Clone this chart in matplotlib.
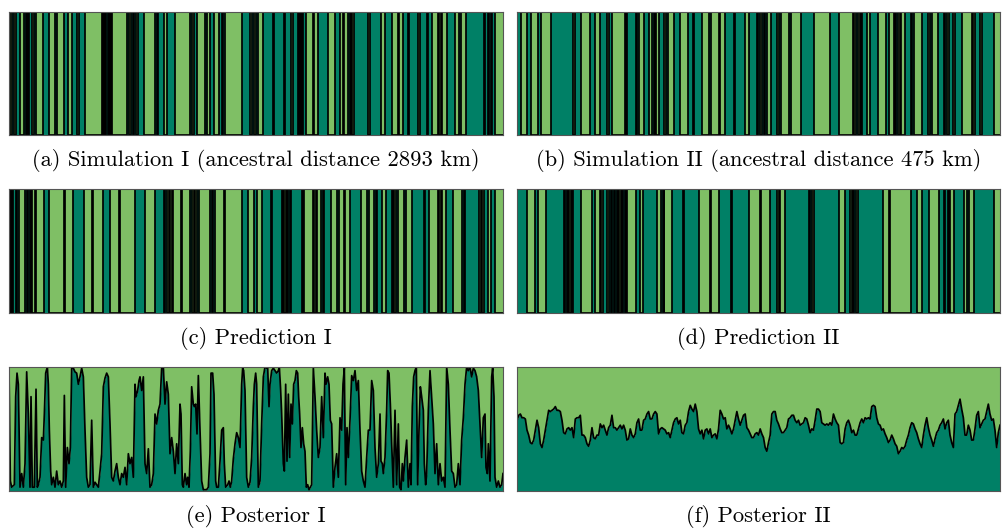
import numpy as np
import matplotlib
matplotlib.use("Agg")
from matplotlib import pyplot as plt

#%% Data
# Ancestry tracts along the chromosome: positions where the ancestry switches,
# the first tract is ancestry 1 (dark) and tracts alternate after each switch.
GENOME_LEN_I = 1482
GENOME_LEN_II = 1450

sim1_switches = [4, 10, 14, 21, 34, 46, 50, 54, 58, 61, 68, 76, 81, 103, 119, 138, 143, 166, 178, 188,
                 204, 209, 228, 278, 282, 285, 289, 292, 296, 299, 304, 307, 310, 353, 360, 366, 372, 376,
                 380, 388, 406, 438, 443, 448, 466, 473, 498, 543, 550, 556, 563, 588, 593, 603, 616, 631,
                 638, 642, 648, 698, 723, 730, 736, 740, 746, 762, 791, 794, 824, 827, 847, 851, 866, 869,
                 872, 876, 879, 882, 891, 911, 915, 926, 958, 978, 993, 1001, 1006, 1018, 1022, 1026, 1030,
                 1034, 1078, 1083, 1116, 1129, 1148, 1166, 1170, 1183, 1197, 1200, 1228, 1232, 1253, 1257,
                 1268, 1287, 1291, 1295, 1299, 1313, 1338, 1351, 1356, 1370, 1426, 1429, 1438, 1441, 1446,
                 1450, 1458]

sim2_switches = [12, 30, 42, 64, 73, 102, 169, 173, 191, 220, 235, 248, 271, 275, 285, 323, 327, 331, 356,
                 359, 365, 380, 395, 405, 410, 413, 417, 425, 440, 447, 453, 470, 490, 512, 529, 532, 555,
                 576, 583, 605, 609, 625, 650, 653, 685, 695, 720, 723, 730, 734, 740, 745, 750, 763, 782,
                 787, 792, 818, 823, 852, 891, 940, 966, 1008, 1012, 1017, 1025, 1029, 1033, 1037, 1050,
                 1060, 1085, 1107, 1118, 1131, 1135, 1139, 1144, 1149, 1154, 1165, 1182, 1186, 1191, 1215,
                 1235, 1240, 1245, 1265, 1282, 1286, 1291, 1296, 1310, 1315, 1335, 1365, 1369, 1374, 1390,
                 1395, 1432]

pred1_switches = [2, 5, 8, 12, 20, 23, 30, 49, 53, 57, 62, 65, 68, 77, 82, 105, 119, 164, 169, 191, 226,
                  249, 253, 283, 304, 329, 333, 378, 408, 439, 464, 468, 475, 479, 484, 488, 493, 515, 519,
                  544, 549, 554, 559, 564, 570, 604, 609, 613, 617, 644, 647, 698, 716, 734, 745, 758, 786,
                  790, 818, 822, 826, 830, 834, 838, 842, 846, 879, 882, 886, 911, 916, 920, 924, 936, 941,
                  945, 966, 985, 990, 1004, 1009, 1023, 1056, 1075, 1080, 1095, 1100, 1104, 1118, 1130, 1148,
                  1152, 1156, 1161, 1168, 1184, 1190, 1209, 1244, 1249, 1261, 1287, 1291, 1295, 1298, 1311,
                  1333, 1359, 1364, 1368, 1410, 1415, 1418, 1425, 1438, 1447, 1457]

pred2_switches = [31, 54, 63, 86, 141, 145, 149, 153, 157, 161, 165, 169, 193, 226, 233, 248, 253, 257, 271,
                  275, 281, 285, 291, 295, 299, 303, 307, 311, 315, 319, 323, 327, 331, 358, 368, 378, 420,
                  432, 437, 440, 442, 465, 498, 502, 547, 578, 582, 605, 641, 646, 695, 728, 733, 760, 781,
                  786, 791, 805, 876, 881, 886, 891, 967, 984, 1001, 1005, 1009, 1013, 1018, 1023, 1098,
                  1118, 1121, 1182, 1200, 1216, 1236, 1266, 1281, 1285, 1293, 1297, 1301, 1312, 1341, 1351,
                  1357, 1372, 1433]

# Posterior probability of ancestry 1, simulation I
post1_pos = [0, 4, 8, 16, 20, 24, 28, 33, 38, 43, 48, 53, 58, 63, 66, 70, 76, 81, 85, 88, 93, 98, 103,
             106, 110, 115, 118, 121, 125, 128, 133, 138, 143, 148, 153, 158, 163, 166, 170, 175, 180,
             184, 188, 193, 198, 203, 208, 213, 218, 223, 228, 233, 238, 243, 248, 253, 258, 263, 268,
             273, 278, 283, 288, 293, 298, 303, 308, 313, 318, 323, 328, 333, 338, 343, 348, 353, 358,
             363, 368, 373, 378, 381, 386, 390, 393, 398, 403, 408, 413, 418, 423, 428, 433, 438, 443,
             448, 453, 458, 463, 468, 473, 478, 483, 488, 493, 498, 503, 508, 513, 516, 520, 523, 528,
             533, 536, 540, 544, 548, 553, 556, 560, 564, 568, 573, 578, 583, 588, 593, 598, 603, 606,
             611, 615, 620, 623, 628, 633, 638, 643, 646, 650, 656, 660, 664, 668, 673, 678, 683, 688,
             693, 698, 701, 704, 708, 713, 718, 723, 728, 733, 736, 740, 743, 748, 753, 758, 763, 768,
             773, 776, 780, 783, 788, 793, 798, 803, 808, 811, 815, 818, 823, 826, 830, 834, 838, 842,
             846, 850, 854, 858, 862, 866, 869, 872, 876, 880, 884, 888, 892, 896, 900, 904, 908, 913,
             918, 923, 928, 933, 938, 943, 948, 951, 956, 960, 964, 968, 973, 978, 983, 988, 993, 998,
             1002, 1006, 1010, 1014, 1018, 1023, 1028, 1033, 1038, 1043, 1048, 1053, 1058, 1063, 1068,
             1073, 1078, 1083, 1088, 1093, 1098, 1103, 1108, 1113, 1116, 1120, 1123, 1128, 1133, 1136,
             1140, 1144, 1148, 1153, 1158, 1163, 1168, 1172, 1176, 1180, 1183, 1188, 1193, 1198, 1203,
             1206, 1210, 1214, 1218, 1222, 1226, 1230, 1234, 1238, 1243, 1246, 1250, 1253, 1258, 1263,
             1268, 1273, 1278, 1283, 1288, 1293, 1298, 1303, 1308, 1313, 1318, 1323, 1328, 1333, 1338,
             1343, 1348, 1353, 1358, 1363, 1368, 1373, 1378, 1383, 1388, 1393, 1398, 1403, 1408, 1413,
             1418, 1423, 1428, 1431, 1435, 1438, 1443, 1448, 1451, 1455, 1458, 1463, 1468, 1473, 1478,
             1482]
post1_prob = [0.97, 0.08, 0.03, 0.05, 0.76, 0.95, 0.86, 0.03, 0.14, 0.03, 0.22, 0.96, 0.62, 0.03, 0.76,
              0.03, 0.03, 0.82, 0.03, 0.05, 0.11, 0.43, 0.41, 0.62, 0.95, 1.00, 0.86, 0.49, 0.16, 0.05,
              0.11, 0.03, 0.16, 0.05, 0.08, 0.03, 0.08, 0.77, 0.03, 0.35, 0.22, 0.35, 0.99, 0.99, 0.96,
              0.95, 0.86, 0.92, 0.99, 0.92, 0.49, 0.11, 0.03, 0.05, 0.57, 0.03, 0.07, 0.05, 0.03, 0.16,
              0.30, 0.84, 0.91, 0.95, 0.92, 0.54, 0.11, 0.08, 0.16, 0.22, 0.11, 0.05, 0.14, 0.11, 0.19,
              0.05, 0.30, 0.22, 0.27, 0.11, 0.86, 0.76, 0.81, 0.89, 0.92, 0.81, 0.92, 0.22, 0.14, 0.34,
              0.03, 0.05, 0.14, 0.62, 0.54, 0.65, 0.70, 0.99, 1.00, 0.70, 0.88, 0.78, 0.30, 0.43, 0.32,
              0.14, 0.38, 0.22, 0.70, 0.62, 0.05, 0.03, 0.14, 0.05, 0.11, 0.03, 0.32, 0.84, 0.70, 0.68,
              0.70, 0.46, 0.93, 0.49, 0.08, 0.01, 0.01, 0.01, 0.03, 0.30, 0.95, 0.95, 0.78, 0.08, 0.03,
              0.03, 0.24, 0.49, 0.51, 0.22, 0.03, 0.05, 0.08, 0.03, 0.08, 0.26, 0.38, 0.47, 0.43, 0.35,
              0.86, 0.99, 0.97, 0.81, 0.11, 0.03, 0.07, 0.27, 0.68, 0.86, 0.95, 0.86, 0.03, 0.08, 0.54,
              0.92, 1.00, 0.99, 1.00, 0.68, 0.86, 0.97, 0.99, 0.97, 0.95, 0.97, 1.00, 0.81, 0.62, 0.22,
              0.16, 0.86, 0.24, 0.78, 0.27, 0.70, 0.54, 0.86, 0.89, 0.97, 0.95, 0.76, 0.62, 0.35, 0.51,
              0.38, 0.32, 0.03, 0.05, 0.01, 0.03, 0.05, 0.99, 0.76, 0.49, 0.27, 0.35, 0.76, 0.43, 0.95,
              0.86, 0.92, 0.86, 0.57, 0.54, 0.03, 0.19, 0.30, 0.11, 0.59, 0.49, 0.86, 0.99, 0.05, 0.51,
              0.27, 0.57, 0.93, 0.89, 0.97, 0.81, 0.89, 0.49, 0.16, 0.08, 0.03, 0.27, 0.49, 0.49, 0.89,
              0.81, 0.35, 0.11, 0.22, 0.62, 0.24, 0.22, 0.14, 0.27, 0.65, 0.97, 0.95, 0.70, 0.38, 0.03,
              0.65, 0.05, 0.54, 0.03, 0.01, 0.22, 0.08, 0.27, 0.41, 0.03, 0.22, 0.05, 0.68, 0.92, 0.97,
              1.00, 0.05, 0.49, 0.84, 0.76, 0.65, 0.22, 0.05, 0.14, 0.65, 0.97, 0.76, 0.54, 0.14, 0.38,
              0.05, 0.22, 0.08, 0.11, 0.03, 1.00, 0.86, 0.49, 0.16, 0.14, 0.03, 0.05, 0.22, 0.05, 0.41,
              0.59, 0.86, 1.00, 0.97, 1.00, 0.92, 0.99, 0.97, 0.92, 0.81, 0.54, 0.27, 0.59, 0.62, 0.19,
              0.14, 0.38, 0.08, 0.92, 0.99, 0.76, 0.11, 0.03, 0.08, 0.03, 0.05, 0.14]

# Posterior probability of ancestry 1, simulation II (one value every 5 positions)
POST2_STEP = 5
post2_prob = [0.57, 0.61, 0.62, 0.59, 0.59, 0.58, 0.49, 0.45, 0.39, 0.38, 0.41, 0.49, 0.57, 0.51, 0.38,
              0.35, 0.41, 0.49, 0.57, 0.65, 0.64, 0.65, 0.66, 0.68, 0.65, 0.65, 0.64, 0.57, 0.47, 0.46,
              0.50, 0.51, 0.49, 0.51, 0.43, 0.58, 0.59, 0.59, 0.61, 0.45, 0.45, 0.43, 0.38, 0.36, 0.41,
              0.51, 0.43, 0.42, 0.45, 0.45, 0.54, 0.51, 0.53, 0.49, 0.45, 0.51, 0.53, 0.61, 0.51, 0.51,
              0.49, 0.51, 0.53, 0.50, 0.53, 0.49, 0.41, 0.42, 0.50, 0.45, 0.43, 0.46, 0.55, 0.58, 0.49,
              0.49, 0.57, 0.58, 0.62, 0.64, 0.58, 0.58, 0.62, 0.64, 0.62, 0.46, 0.50, 0.51, 0.50, 0.49,
              0.46, 0.47, 0.43, 0.49, 0.55, 0.58, 0.59, 0.54, 0.57, 0.47, 0.46, 0.53, 0.55, 0.64, 0.69,
              0.66, 0.64, 0.70, 0.64, 0.50, 0.46, 0.49, 0.42, 0.49, 0.50, 0.46, 0.50, 0.43, 0.45, 0.46,
              0.42, 0.50, 0.65, 0.62, 0.58, 0.59, 0.50, 0.53, 0.50, 0.46, 0.50, 0.57, 0.64, 0.58, 0.53,
              0.57, 0.61, 0.62, 0.51, 0.49, 0.46, 0.43, 0.43, 0.46, 0.47, 0.45, 0.50, 0.46, 0.43, 0.35,
              0.32, 0.39, 0.45, 0.62, 0.64, 0.64, 0.57, 0.54, 0.50, 0.47, 0.47, 0.49, 0.51, 0.58, 0.59,
              0.61, 0.61, 0.57, 0.55, 0.57, 0.53, 0.54, 0.55, 0.59, 0.58, 0.53, 0.47, 0.50, 0.49, 0.57,
              0.66, 0.66, 0.64, 0.55, 0.54, 0.53, 0.54, 0.53, 0.55, 0.53, 0.62, 0.58, 0.55, 0.53, 0.39,
              0.38, 0.39, 0.50, 0.55, 0.57, 0.53, 0.47, 0.49, 0.45, 0.45, 0.50, 0.55, 0.58, 0.55, 0.59,
              0.58, 0.59, 0.58, 0.68, 0.69, 0.68, 0.59, 0.54, 0.53, 0.49, 0.50, 0.46, 0.43, 0.39, 0.41,
              0.45, 0.42, 0.38, 0.36, 0.30, 0.32, 0.35, 0.34, 0.36, 0.41, 0.45, 0.51, 0.55, 0.54, 0.50,
              0.47, 0.42, 0.38, 0.35, 0.45, 0.53, 0.59, 0.51, 0.45, 0.41, 0.36, 0.42, 0.47, 0.49, 0.53,
              0.55, 0.58, 0.50, 0.55, 0.57, 0.45, 0.39, 0.35, 0.62, 0.64, 0.69, 0.74, 0.66, 0.59, 0.45,
              0.45, 0.53, 0.49, 0.41, 0.41, 0.50, 0.61, 0.64, 0.51, 0.54, 0.57, 0.58, 0.64, 0.70, 0.62,
              0.57, 0.58, 0.49, 0.35, 0.47, 0.53]

captions = ["(a) Simulation I (ancestral distance 2893 km)",
            "(b) Simulation II (ancestral distance 475 km)",
            "(c) Prediction I", "(d) Prediction II",
            "(e) Posterior I", "(f) Posterior II"]

#%% Styling
LIGHT = "#7fbf65"
DARK = "#008066"
LINE_W = 1.25
CAPTION_FONT = "cmr10"


def draw_tracts(ax, switches, length, first=1):
    x = np.concatenate([[0], switches, [length]])
    y = np.array([(first + i) % 2 for i in range(len(switches) + 1)], dtype=float)
    y = np.append(y, y[-1])
    ax.fill_between(x, 0, y, step="post", color=DARK, lw=0)
    ax.fill_between(x, y, 1, step="post", color=LIGHT, lw=0)
    ax.step(x, y, where="post", color="black", lw=LINE_W)
    ax.set_xlim(0, length)


def draw_posterior(ax, pos, prob, length):
    pos = np.asarray(pos, dtype=float)
    prob = np.asarray(prob, dtype=float)
    ax.fill_between(pos, 0, prob, color=DARK, lw=0)
    ax.fill_between(pos, prob, 1, color=LIGHT, lw=0)
    ax.plot(pos, prob, color="black", lw=LINE_W)
    ax.set_xlim(0, length)


#%% Figure
fig = plt.figure(figsize=(10.02, 5.29), dpi=100)

# [left, bottom, width, height] in figure fraction, rows from top
col_x = [(0.009, 0.493), (0.516, 0.482)]
row_y = [(0.745, 0.2325), (0.408, 0.2344), (0.072, 0.2344)]
caption_y = [0.697, 0.361, 0.024]

axes = []
for r in range(3):
    for c in range(2):
        ax = fig.add_axes([col_x[c][0], row_y[r][0], col_x[c][1], row_y[r][1]])
        axes.append(ax)

draw_tracts(axes[0], sim1_switches, GENOME_LEN_I)
draw_tracts(axes[1], sim2_switches, GENOME_LEN_II)
draw_tracts(axes[2], pred1_switches, GENOME_LEN_I)
draw_tracts(axes[3], pred2_switches, GENOME_LEN_II)
draw_posterior(axes[4], post1_pos, post1_prob, GENOME_LEN_I)
post2_pos = np.arange(len(post2_prob)) * POST2_STEP
draw_posterior(axes[5], post2_pos, post2_prob, GENOME_LEN_II)

for i, ax in enumerate(axes):
    ax.set_ylim(0, 1)
    ax.set_xticks([])
    ax.set_yticks([])
    for sp in ax.spines.values():
        sp.set_color("#555555")
        sp.set_linewidth(0.8)
        sp.set_zorder(5)
    r, c = divmod(i, 2)
    fig.text(col_x[c][0] + col_x[c][1] / 2, caption_y[r], captions[i],
             ha="center", va="center", fontsize=16.2, family=CAPTION_FONT)

fig.savefig("out.png", dpi=100)
